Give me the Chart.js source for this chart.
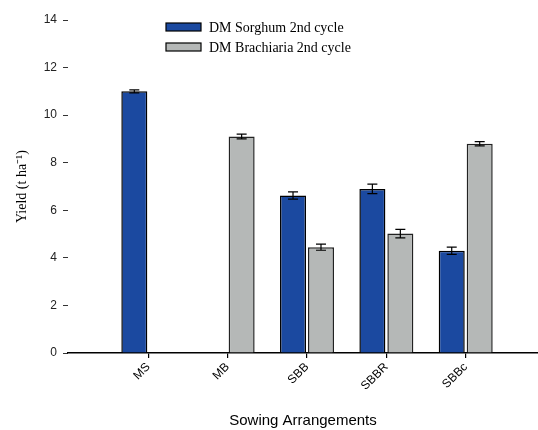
<!DOCTYPE html>
<html>
<head>
<meta charset="utf-8">
<style>
  html, body { margin: 0; padding: 0; background: #fff; }
  #wrap { width: 538px; height: 430px; }
</style>
<script src="https://cdn.jsdelivr.net/npm/chart.js@4/dist/chart.umd.min.js"></script>
</head>
<body>
<div id="wrap"><canvas id="c" width="538" height="430"></canvas></div>
<script>
// Sowing arrangements and dry-matter yields (t/ha), second cycle
const categories = ['MS', 'MB', 'SBB', 'SBBR', 'SBBc'];
const sorghumYield = [11.0, null, 6.62, 6.9, 4.3];
const sorghumErr   = [0.06, null, 0.15, 0.2, 0.15];
const brachYield   = [null, 9.1, 4.45, 5.02, 8.8];
const brachErr     = [null, 0.1, 0.13, 0.18, 0.09];
const yTicks = [0, 2, 4, 6, 8, 10, 12, 14];

const SANS = '"Liberation Sans", Arial, sans-serif';
const SERIF = '"Liberation Serif", "Times New Roman", serif';

const xPositions = categories.map((_, i) => i + 1);
const toPoints = (vals) => vals.map((v, i) => ({ x: xPositions[i], y: v }));

// Vertical error bars with caps, drawn at each bar's centre
const errorBars = {
  id: 'errorBars',
  afterDatasetsDraw(chart) {
    const ctx = chart.ctx;
    const yScale = chart.scales.y;
    chart.data.datasets.forEach((ds, di) => {
      const meta = chart.getDatasetMeta(di);
      meta.data.forEach((bar, i) => {
        const v = ds.data[i].y, e = ds.errors[i];
        if (v == null || e == null) return;
        const yt = yScale.getPixelForValue(v + e);
        const yb = yScale.getPixelForValue(v - e);
        const cap = 5;
        ctx.save();
        ctx.strokeStyle = '#000';
        ctx.lineWidth = 1.2;
        ctx.beginPath();
        ctx.moveTo(bar.x, yt); ctx.lineTo(bar.x, yb);
        ctx.moveTo(bar.x - cap, yt); ctx.lineTo(bar.x + cap, yt);
        ctx.moveTo(bar.x - cap, yb); ctx.lineTo(bar.x + cap, yb);
        ctx.stroke();
        ctx.restore();
      });
    });
  }
};

// Stacked legend placed inside the plot, below the top of the value axis
const insideLegend = {
  id: 'insideLegend',
  afterDraw(chart) {
    const ctx = chart.ctx;
    const x0 = 166, y0 = 23, rowGap = 20, boxW = 35, boxH = 8;
    ctx.save();
    chart.data.datasets.forEach((ds, i) => {
      const y = y0 + i * rowGap;
      ctx.fillStyle = ds.backgroundColor;
      ctx.fillRect(x0, y, boxW, boxH);
      ctx.strokeStyle = '#000';
      ctx.lineWidth = 1.2;
      ctx.strokeRect(x0, y, boxW, boxH);
      ctx.fillStyle = '#000';
      ctx.font = '14px ' + SERIF;
      ctx.textBaseline = 'middle';
      ctx.textAlign = 'left';
      ctx.fillText(ds.label, x0 + boxW + 8, y + boxH / 2 + 1);
    });
    ctx.restore();
  }
};

new Chart(document.getElementById('c'), {
  type: 'bar',
  data: {
    datasets: [
      {
        label: 'DM Sorghum 2nd cycle',
        data: toPoints(sorghumYield),
        errors: sorghumErr,
        backgroundColor: '#1b49a0',
        borderColor: '#000',
        borderWidth: 1.5
      },
      {
        label: 'DM Brachiaria 2nd cycle',
        data: toPoints(brachYield),
        errors: brachErr,
        backgroundColor: '#b5b8b7',
        borderColor: '#222',
        borderWidth: 1.5
      }
    ]
  },
  options: {
    responsive: false,
    animation: false,
    events: [],
    categoryPercentage: 0.705,
    barPercentage: 0.93,
    layout: { padding: { left: 0, top: 20, right: 0, bottom: 0 } },
    plugins: {
      legend: { display: false },
      tooltip: { enabled: false }
    },
    scales: {
      x: {
        type: 'linear',
        offset: false,
        min: -0.012,
        max: 5.911,
        afterBuildTicks(scale) {
          scale.ticks = xPositions.map(v => ({ value: v }));
        },
        afterFit(scale) { scale.height = 77; },
        ticks: {
          autoSkip: false,
          minRotation: 45,
          maxRotation: 45,
          padding: 2,
          color: '#000',
          font: { family: SANS, size: 12 },
          callback: (value, index) => categories[index]
        },
        grid: { offset: false, drawOnChartArea: false, drawTicks: true, tickLength: 5, color: '#000', lineWidth: 1.2 },
        border: { display: true, color: '#000', width: 1.5 },
        title: {
          display: true,
          text: 'Sowing Arrangements',
          color: '#000',
          font: { family: SANS, size: 15 },
          padding: { top: 0, bottom: 0 }
        }
      },
      y: {
        min: 0,
        max: 14,
        afterBuildTicks(scale) {
          scale.ticks = yTicks.map(v => ({ value: v }));
        },
        afterFit(scale) { scale.width = 68; },
        ticks: {
          padding: 6,
          color: '#222',
          font: { family: SANS, size: 12 }
        },
        grid: { drawOnChartArea: false, drawTicks: true, tickLength: 5, color: '#333', lineWidth: 1 },
        border: { display: false },
        title: {
          display: true,
          text: 'Yield (t ha\u207B\u00B9)',
          color: '#000',
          font: { family: SERIF, size: 14 },
          padding: { top: 14, bottom: 0 }
        }
      }
    }
  },
  plugins: [errorBars, insideLegend]
});
</script>
</body>
</html>
